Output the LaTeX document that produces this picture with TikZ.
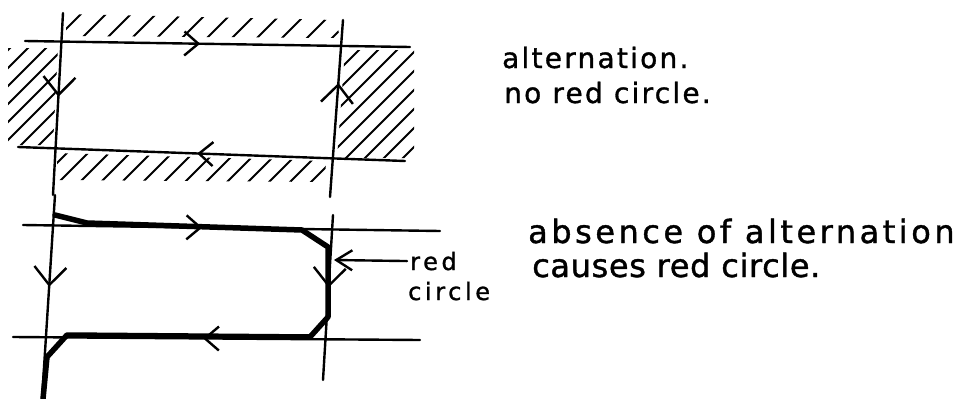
\documentclass[tikz,border=0pt]{standalone}
\usepackage{fontspec}
\setmainfont{DejaVu Sans}
\newfontfamily\handwide[LetterSpace=11,FakeBold=1.2]{DejaVu Sans}
\newfontfamily\handmid[LetterSpace=8,FakeBold=1.2]{DejaVu Sans}
\newfontfamily\handlbl[LetterSpace=15,FakeBold=1.2]{DejaVu Sans}
\newfontfamily\handtight[LetterSpace=2,FakeBold=1.2]{DejaVu Sans}
\usetikzlibrary{arrows.meta,decorations.markings}

\begin{document}
\begin{tikzpicture}[x=1pt, y=-1pt,
    wire/.style={draw, line width=2.4pt, line cap=round},
    heavy/.style={draw, line width=5.5pt, line join=round, line cap=round},
    hatch/.style={draw, line width=2pt},
    flowtip/.style={postaction={decorate, decoration={markings,
      mark=at position #1 with {\arrow{Straight Barb[length=14pt,width=24pt,line width=2.4pt]}}}}},
    bigtip/.style={postaction={decorate, decoration={markings,
      mark=at position #1 with {\arrow{Straight Barb[length=18pt,width=32pt,line width=2.4pt]}}}}},
    note/.style={inner sep=0pt, anchor=base west}]

    \useasboundingbox (0,0) rectangle (970,399);

    % upper sketch: alternation
    \coordinate (tl1) at (25,41);   \coordinate (tl2) at (410,47);
    \coordinate (bl1) at (18,147);  \coordinate (bl2) at (405,161);
    \coordinate (lv1) at (63,13);   \coordinate (lv2) at (53,195);
    \coordinate (rv1) at (343,20);  \coordinate (rv2) at (330,197);

    \begin{scope}
      \clip (66,14) -- (336,20) -- (340,38) -- (66,36) -- cycle;
      \foreach \x in {-40,-15,...,360} \draw[hatch] (\x,60) -- ++(80,-80);
    \end{scope}
    \begin{scope}
      \clip (8,48) -- (58,48) -- (53,145) -- (8,145) -- cycle;
      \foreach \x in {-120,-102,...,80} \draw[hatch] (\x,160) -- ++(140,-140);
    \end{scope}
    \begin{scope}
      \clip (345,50) -- (414,50) -- (414,158) -- (337,158) -- cycle;
      \foreach \x in {220,239,...,440} \draw[hatch] (\x,170) -- ++(140,-140);
    \end{scope}
    \begin{scope}
      \clip (57,153) -- (326,161) -- (325,182) -- (57,180) -- cycle;
      \foreach \x in {20,41,...,340} \draw[hatch] (\x,200) -- ++(60,-60);
    \end{scope}

    \path [wire, flowtip=0.455] (tl1) -- (tl2);
    \path [wire, flowtip=0.537] (bl2) -- (bl1);
    \path [wire, bigtip=0.46] (lv1) -- (lv2);
    \path [wire, bigtip=0.644] (rv2) -- (rv1);

    \node [note] (alt) at (502,68) {\handmid\fontsize{28}{32}\selectfont alternation.};
    \node [note] (nored) at (504,103) {\handmid\fontsize{28}{32}\selectfont no red circle.};

    % lower sketch: no alternation
    \coordinate (ta1) at (23,225);  \coordinate (ta2) at (440,231);
    \coordinate (ba1) at (13,337);  \coordinate (ba2) at (420,340);
    \coordinate (la1) at (55,195);  \coordinate (la2) at (42,399);
    \coordinate (ra1) at (333,215); \coordinate (ra2) at (323,380);
    \coordinate (hit) at (334,260);

    \path [wire, flowtip=0.43] (ta1) -- (ta2);
    \path [wire, flowtip=0.533] (ba2) -- (ba1);
    \path [wire, bigtip=0.45] (la1) -- (la2);
    \path [wire, bigtip=0.44] (ra1) -- (ra2);

    \draw [heavy] (55,215) -- (87,223) -- (302,230) -- (328,247) -- (328,317)
      -- (310,337) -- (67,335) -- (47,357) -- (43,399);

    \node [note] (redtxt) at (410,270) {\handlbl\fontsize{24}{28}\selectfont red};
    \node [note] (circtxt) at (408,300) {\handlbl\fontsize{24}{28}\selectfont circle};
    \path [wire, -{Straight Barb[length=16pt,width=20pt]}] (redtxt.west) ++(-3,0) -- (hit);

    \node [note] (absent) at (528,243) {\handwide\fontsize{32}{36}\selectfont absence of alternation};
    \node [note] (causes) at (532,277) {\handtight\fontsize{32}{36}\selectfont causes red circle.};
\end{tikzpicture}
\end{document}
